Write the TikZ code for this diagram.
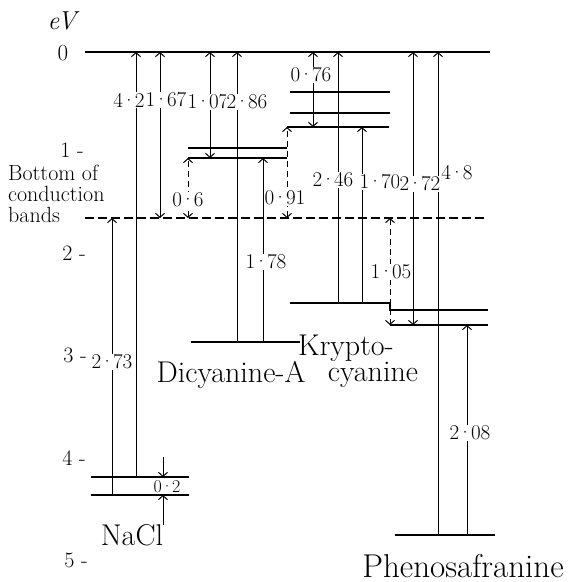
\documentclass[tikz,border=0pt]{standalone}
\usepackage{tikz}
\usetikzlibrary{arrows.meta}

% tight centred decimal point
\newcommand{\md}{\kern-0.08em·\kern-0.08em}

\tikzset{
  lvl/.style={line width=1.5pt},
  tr/.style={line width=1pt, -{Straight Barb[length=4pt,width=9pt]}},
  trb/.style={line width=1pt, {Straight Barb[length=4pt,width=9pt]}-{Straight Barb[length=4pt,width=9pt]}},
  jump/.style={dash pattern=on 6pt off 4pt},
  val/.style={fill=white, inner sep=1pt, font=\fontsize{21}{21}\selectfont},
  mol/.style={anchor=base, inner sep=0pt, font=\fontsize{30}{30}\selectfont},
  ticklab/.style={inner sep=0pt, font=\fontsize{22}{22}\selectfont},
}

\begin{document}
\begin{tikzpicture}[x=1pt, y=-1pt]
  \useasboundingbox (0,0) rectangle (568,582);

  % energy scale
  \node[ticklab, font=\fontsize{26}{26}\selectfont\itshape] (ev) at (62,21) {eV};
  \node[ticklab, font=\fontsize{23}{23}\selectfont] (e0) at (63,53) {0};
  \node[ticklab] (e1) at (72,150) {1 -};
  \node[ticklab] (e2) at (74,253) {2 -};
  \node[ticklab] (e3) at (75,355) {3 -};
  \node[ticklab] (e4) at (74,458) {4 -};
  \node[ticklab] (e5) at (76,560) {5 -};

  % vacuum level and bottom of conduction bands
  \coordinate (vac) at (85,52);
  \coordinate (cb) at (85,218);
  \draw[lvl] (vac) -- (490,52);
  \draw[line width=1.2pt, dash pattern=on 9pt off 4pt] (cb) -- (487,218);
  \node[anchor=west, align=left, inner sep=0pt, font=\fontsize{22}{21}\selectfont] (cbtext) at (8,194) {Bottom of\\conduction\\bands};

  % NaCl
  \coordinate (na1) at (91,477);
  \coordinate (na2) at (91,495);
  \draw[lvl] (na1) -- ++(98,0);
  \draw[lvl] (na2) -- ++(98,0);
  \draw[tr] (136,0 |- na1) -- (136,0 |- vac);
  \draw[trb] (160,0 |- cb) -- (160,0 |- vac);
  \draw[tr] (112,0 |- na2) -- (112,0 |- cb);
  \draw[tr] (163,457) -- (163,0 |- na1);
  \draw[tr] (163,525) -- (163,0 |- na2);
  \node[val] (v42) at (129,100) {4\md2};
  \node[val] (v167) at (166,100) {1\md67};
  \node[val] (v273) at (112,362) {2\md73};
  \node[val, fill=none, font=\fontsize{18}{18}\selectfont] (v02) at (167,487) {0\md2};
  \node[mol] (nacl) at (132,545) {NaCl};

  % Dicyanine-A
  \coordinate (dc1) at (188,148);
  \coordinate (dc2) at (188,158);
  \coordinate (dcg) at (191,342);
  \draw[lvl] (dc1) -- ++(99,0);
  \draw[lvl] (dc2) -- ++(99,0);
  \draw[lvl] (dcg) -- ++(109,0);
  \draw[trb] (210,0 |- vac) -- (210,0 |- dc2);
  \draw[tr] (237,0 |- dcg) -- (237,0 |- vac);
  \draw[tr] (263,0 |- dcg) -- (263,0 |- dc2);
  \draw[trb, jump] (188,0 |- cb) -- (dc2);
  \node[val] (v107) at (208,102) {1\md07};
  \node[val] (v286) at (247,102) {2\md86};
  \node[val] (v178) at (266,262) {1\md78};
  \node[val] (v06) at (188,200) {0\md6};
  \node[mol] (dicy) at (231,382) {Dicyanine-A};

  % Kryptocyanine
  \coordinate (kc1) at (290,92);
  \coordinate (kc2) at (290,113);
  \coordinate (kc3) at (287,127);
  \coordinate (kcg) at (290,303);
  \coordinate (ph1) at (390,310);
  \draw[lvl] (kc1) -- ++(100,0);
  \draw[lvl] (kc2) -- ++(100,0);
  \draw[lvl] (kc3) -- ++(102,0);
  \draw[lvl] (kcg) -| (ph1) -- ++(98,0);
  \draw[trb, jump] (287,0 |- cb) -- (kc3);
  \draw[trb] (313,0 |- vac) -- (313,0 |- kc3);
  \draw[tr] (338,0 |- kcg) -- (338,0 |- vac);
  \draw[tr] (362,0 |- kcg) -- (362,0 |- kc3);
  \node[val] (v091) at (285,198) {0\md91};
  \node[val] (v076) at (311,75) {0\md76};
  \node[val] (v246) at (333,180) {2\md46};
  \node[val] (v170) at (380,182) {1\md70};
  \node[mol] (kryp) at (346,355) {Krypto-};
  \node[mol] (cyan) at (373,381) {cyanine};

  % Phenosafranine
  \coordinate (ph2) at (390,325);
  \coordinate (phg) at (395,535);
  \draw[lvl] (ph2) -- ++(98,0);
  \draw[lvl] (phg) -- ++(100,0);
  \draw[trb] (413,0 |- vac) -- (413,0 |- ph2);
  \draw[tr] (438,0 |- phg) -- (438,0 |- vac);
  \draw[tr] (467,0 |- phg) -- (467,0 |- ph2);
  \draw[trb, jump] (390,0 |- cb) -- (ph2);
  \node[val] (v272) at (420,184) {2\md72};
  \node[val] (v48) at (457,173) {4\md8};
  \node[val] (v105) at (391,272) {1\md05};
  \node[val] (v208) at (470,433) {2\md08};
  \node[mol, font=\fontsize{33}{33}\selectfont] (phen) at (463,577) {Phenosafranine};
\end{tikzpicture}
\end{document}
